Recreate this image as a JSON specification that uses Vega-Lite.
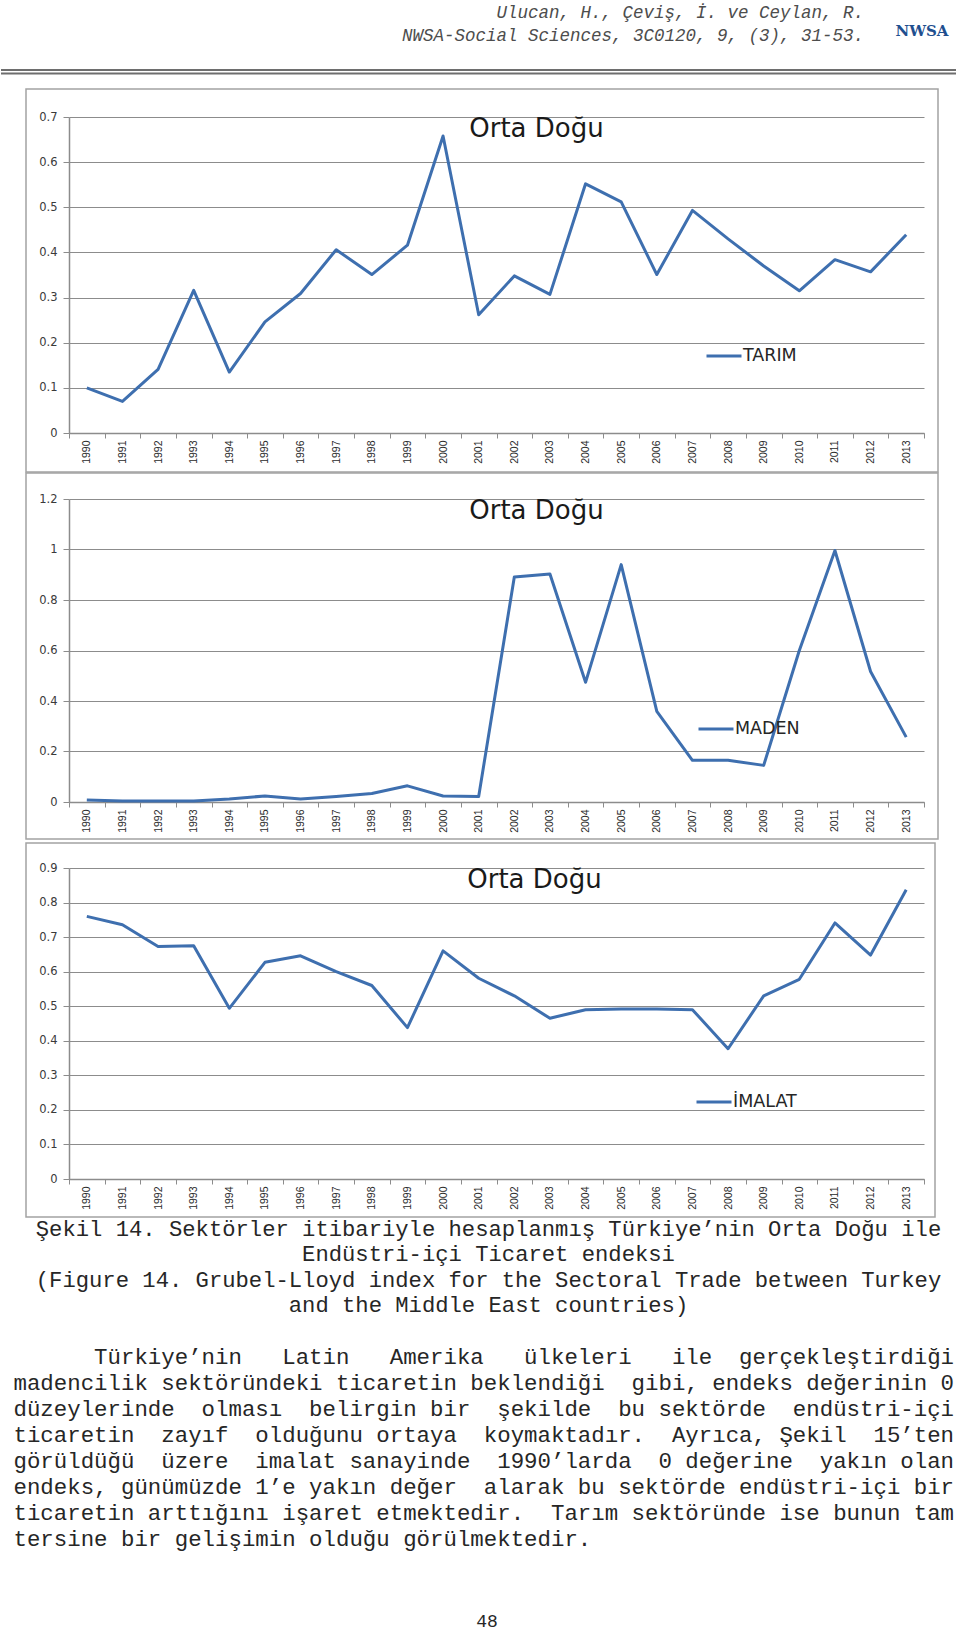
{
  "$schema": "https://vega.github.io/schema/vega-lite/v6.json",
  "padding": 0,
  "spacing": 66,
  "bounds": "flush",
  "background": "white",
  "resolve": {"scale": {"color": "independent"}, "legend": {"color": "independent"}},
  "config": {
    "view": {"stroke": null},
    "font": "DejaVu Sans",
    "axis": {"domainColor": "#8c8c8c", "tickColor": "#8c8c8c", "gridColor": "#8c8c8c", "labelColor": "#3a3a3a", "labelFont": "DejaVu Sans"},
    "axisY": {"grid": true, "tickSize": 6, "labelPadding": 6, "labelFontSize": 11.5, "domainWidth": 1.5},
    "axisX": {"grid": false, "tickBand": "extent", "tickSize": 5, "labelAngle": -90, "labelFont": "Liberation Sans", "labelFontSize": 10.5, "labelColor": "#2a2a2a", "labelPadding": 2, "domainWidth": 1.5},
    "legend": {"orient": "none", "symbolType": "stroke", "symbolSize": 1225, "symbolStrokeWidth": 3, "labelFont": "DejaVu Sans", "labelFontSize": 17.5, "labelColor": "#262626", "labelOffset": 0, "padding": 0},
    "title": {"font": "DejaVu Sans", "fontSize": 26, "fontWeight": "normal", "color": "#1a1a1a", "anchor": "middle", "frame": "group"}
  },
  "datasets": {
    "header": [
      {"line": 1, "text": "Ulucan, H., Çeviş, İ. ve Ceylan, R."},
      {"line": 2, "text": "NWSA-Social Sciences, 3C0120, 9, (3), 31-53."}
    ],
    "tarim": [
      {"year": "1990", "value": 0.100, "sector": "TARIM"},
      {"year": "1991", "value": 0.070, "sector": "TARIM"},
      {"year": "1992", "value": 0.141, "sector": "TARIM"},
      {"year": "1993", "value": 0.316, "sector": "TARIM"},
      {"year": "1994", "value": 0.135, "sector": "TARIM"},
      {"year": "1995", "value": 0.246, "sector": "TARIM"},
      {"year": "1996", "value": 0.309, "sector": "TARIM"},
      {"year": "1997", "value": 0.406, "sector": "TARIM"},
      {"year": "1998", "value": 0.351, "sector": "TARIM"},
      {"year": "1999", "value": 0.416, "sector": "TARIM"},
      {"year": "2000", "value": 0.658, "sector": "TARIM"},
      {"year": "2001", "value": 0.262, "sector": "TARIM"},
      {"year": "2002", "value": 0.348, "sector": "TARIM"},
      {"year": "2003", "value": 0.307, "sector": "TARIM"},
      {"year": "2004", "value": 0.552, "sector": "TARIM"},
      {"year": "2005", "value": 0.512, "sector": "TARIM"},
      {"year": "2006", "value": 0.351, "sector": "TARIM"},
      {"year": "2007", "value": 0.493, "sector": "TARIM"},
      {"year": "2008", "value": 0.430, "sector": "TARIM"},
      {"year": "2009", "value": 0.370, "sector": "TARIM"},
      {"year": "2010", "value": 0.315, "sector": "TARIM"},
      {"year": "2011", "value": 0.384, "sector": "TARIM"},
      {"year": "2012", "value": 0.357, "sector": "TARIM"},
      {"year": "2013", "value": 0.439, "sector": "TARIM"}
    ],
    "maden": [
      {"year": "1990", "value": 0.008, "sector": "MADEN"},
      {"year": "1991", "value": 0.004, "sector": "MADEN"},
      {"year": "1992", "value": 0.004, "sector": "MADEN"},
      {"year": "1993", "value": 0.004, "sector": "MADEN"},
      {"year": "1994", "value": 0.012, "sector": "MADEN"},
      {"year": "1995", "value": 0.024, "sector": "MADEN"},
      {"year": "1996", "value": 0.012, "sector": "MADEN"},
      {"year": "1997", "value": 0.022, "sector": "MADEN"},
      {"year": "1998", "value": 0.034, "sector": "MADEN"},
      {"year": "1999", "value": 0.064, "sector": "MADEN"},
      {"year": "2000", "value": 0.024, "sector": "MADEN"},
      {"year": "2001", "value": 0.022, "sector": "MADEN"},
      {"year": "2002", "value": 0.891, "sector": "MADEN"},
      {"year": "2003", "value": 0.903, "sector": "MADEN"},
      {"year": "2004", "value": 0.474, "sector": "MADEN"},
      {"year": "2005", "value": 0.940, "sector": "MADEN"},
      {"year": "2006", "value": 0.359, "sector": "MADEN"},
      {"year": "2007", "value": 0.165, "sector": "MADEN"},
      {"year": "2008", "value": 0.165, "sector": "MADEN"},
      {"year": "2009", "value": 0.145, "sector": "MADEN"},
      {"year": "2010", "value": 0.600, "sector": "MADEN"},
      {"year": "2011", "value": 0.996, "sector": "MADEN"},
      {"year": "2012", "value": 0.517, "sector": "MADEN"},
      {"year": "2013", "value": 0.257, "sector": "MADEN"}
    ],
    "imalat": [
      {"year": "1990", "value": 0.760, "sector": "İMALAT"},
      {"year": "1991", "value": 0.736, "sector": "İMALAT"},
      {"year": "1992", "value": 0.673, "sector": "İMALAT"},
      {"year": "1993", "value": 0.675, "sector": "İMALAT"},
      {"year": "1994", "value": 0.494, "sector": "İMALAT"},
      {"year": "1995", "value": 0.627, "sector": "İMALAT"},
      {"year": "1996", "value": 0.646, "sector": "İMALAT"},
      {"year": "1997", "value": 0.600, "sector": "İMALAT"},
      {"year": "1998", "value": 0.560, "sector": "İMALAT"},
      {"year": "1999", "value": 0.438, "sector": "İMALAT"},
      {"year": "2000", "value": 0.660, "sector": "İMALAT"},
      {"year": "2001", "value": 0.581, "sector": "İMALAT"},
      {"year": "2002", "value": 0.530, "sector": "İMALAT"},
      {"year": "2003", "value": 0.465, "sector": "İMALAT"},
      {"year": "2004", "value": 0.490, "sector": "İMALAT"},
      {"year": "2005", "value": 0.492, "sector": "İMALAT"},
      {"year": "2006", "value": 0.492, "sector": "İMALAT"},
      {"year": "2007", "value": 0.490, "sector": "İMALAT"},
      {"year": "2008", "value": 0.377, "sector": "İMALAT"},
      {"year": "2009", "value": 0.530, "sector": "İMALAT"},
      {"year": "2010", "value": 0.578, "sector": "İMALAT"},
      {"year": "2011", "value": 0.741, "sector": "İMALAT"},
      {"year": "2012", "value": 0.648, "sector": "İMALAT"},
      {"year": "2013", "value": 0.837, "sector": "İMALAT"}
    ],
    "caption": [
      {"line": 1, "text": "Şekil 14. Sektörler itibariyle hesaplanmış Türkiye’nin Orta Doğu ile"},
      {"line": 2, "text": "Endüstri-içi Ticaret endeksi"},
      {"line": 3, "text": "(Figure 14. Grubel-Lloyd index for the Sectoral Trade between Turkey"},
      {"line": 4, "text": "and the Middle East countries)"}
    ],
    "para": [
      {"line": 1, "text": "\u2060\u00a0\u00a0\u00a0\u00a0\u00a0\u00a0Türkiye’nin\u00a0\u00a0\u00a0Latin\u00a0\u00a0\u00a0Amerika\u00a0\u00a0\u00a0ülkeleri\u00a0\u00a0\u00a0ile\u00a0\u00a0gerçekleştirdiği"},
      {"line": 2, "text": "madencilik sektöründeki ticaretin beklendiği\u00a0\u00a0gibi, endeks değerinin 0"},
      {"line": 3, "text": "düzeylerinde\u00a0\u00a0olması\u00a0\u00a0belirgin bir\u00a0\u00a0şekilde\u00a0\u00a0bu sektörde\u00a0\u00a0endüstri-içi"},
      {"line": 4, "text": "ticaretin\u00a0\u00a0zayıf\u00a0\u00a0olduğunu ortaya\u00a0\u00a0koymaktadır.\u00a0\u00a0Ayrıca, Şekil\u00a0\u00a015’ten"},
      {"line": 5, "text": "görüldüğü\u00a0\u00a0üzere\u00a0\u00a0imalat sanayinde\u00a0\u00a01990’larda\u00a0\u00a00 değerine\u00a0\u00a0yakın olan"},
      {"line": 6, "text": "endeks, günümüzde 1’e yakın değer\u00a0\u00a0alarak bu sektörde endüstri-içi bir"},
      {"line": 7, "text": "ticaretin arttığını işaret etmektedir.\u00a0\u00a0Tarım sektöründe ise bunun tam"},
      {"line": 8, "text": "tersine bir gelişimin olduğu görülmektedir."}
    ]
  },
  "vconcat": [
    {
      "width": 855,
      "height": 51,
      "layer": [
        {
          "data": {"name": "header"},
          "mark": {"type": "text", "align": "right", "baseline": "middle", "font": "Liberation Mono", "fontStyle": "italic", "fontSize": 17.5, "color": "#4d4d4d"},
          "encoding": {
            "x": {"value": 795},
            "y": {"field": "line", "type": "quantitative", "scale": {"domain": [1, 2], "range": [12.5, 36.4]}, "axis": null},
            "text": {"field": "text"}
          }
        },
        {
          "data": {"values": [{"logo": "NWSA"}]},
          "mark": {"type": "text", "align": "center", "baseline": "middle", "font": "DejaVu Serif", "fontWeight": "bold", "fontSize": 15, "color": "#1f4f8f"},
          "encoding": {"x": {"value": 853}, "y": {"value": 31}, "text": {"field": "logo"}}
        },
        {
          "data": {"values": [{}]},
          "mark": {"type": "rule", "color": "#6e6e6e", "strokeWidth": 2},
          "encoding": {"x": {"value": -68}, "x2": {"value": 887}, "y": {"value": 70}}
        },
        {
          "data": {"values": [{}]},
          "mark": {"type": "rule", "color": "#6e6e6e", "strokeWidth": 2},
          "encoding": {"x": {"value": -68}, "x2": {"value": 887}, "y": {"value": 73.5}}
        }
      ]
    },
    {
      "width": 855,
      "height": 316,
      "title": {"text": "Orta Doğu", "dx": 40, "dy": 58},
      "layer": [
        {
          "data": {"values": [{}]},
          "mark": {"type": "rect", "fill": "white", "fillOpacity": 0, "stroke": "#a3a3a3", "strokeWidth": 1.5},
          "encoding": {"x": {"value": -43}, "x2": {"value": 869}, "y": {"value": -28}, "y2": {"value": 355}}
        },
        {
          "data": {"name": "tarim"},
          "mark": {"type": "line", "strokeWidth": 3, "strokeJoin": "round"},
          "encoding": {
            "x": {"field": "year", "type": "ordinal", "bandPosition": 0.5, "title": null, "scale": {"type": "band", "paddingInner": 0, "paddingOuter": 0}},
            "y": {"field": "value", "type": "quantitative", "title": null, "scale": {"domain": [0, 0.7], "nice": false}, "axis": {"values": [0, 0.1, 0.2, 0.3, 0.4, 0.5, 0.6, 0.7], "format": ".1~f"}},
            "color": {"field": "sector", "type": "nominal", "title": null, "scale": {"range": ["#3e6faf"]}, "legend": {"legendX": 636, "legendY": 220}}
          }
        }
      ]
    },
    {
      "width": 855,
      "height": 303,
      "title": {"text": "Orta Doğu", "dx": 40, "dy": 56},
      "layer": [
        {
          "data": {"values": [{}]},
          "mark": {"type": "rect", "fill": "white", "fillOpacity": 0, "stroke": "#a3a3a3", "strokeWidth": 1.5},
          "encoding": {"x": {"value": -43}, "x2": {"value": 869}, "y": {"value": -26}, "y2": {"value": 340}}
        },
        {
          "data": {"name": "maden"},
          "mark": {"type": "line", "strokeWidth": 3, "strokeJoin": "round"},
          "encoding": {
            "x": {"field": "year", "type": "ordinal", "bandPosition": 0.5, "title": null, "scale": {"type": "band", "paddingInner": 0, "paddingOuter": 0}},
            "y": {"field": "value", "type": "quantitative", "title": null, "scale": {"domain": [0, 1.2], "nice": false}, "axis": {"values": [0, 0.2, 0.4, 0.6, 0.8, 1, 1.2], "format": ".1~f"}},
            "color": {"field": "sector", "type": "nominal", "title": null, "scale": {"range": ["#3e6faf"]}, "legend": {"legendX": 628, "legendY": 211}}
          }
        }
      ]
    },
    {
      "width": 855,
      "height": 311,
      "title": {"text": "Orta Doğu", "dx": 38, "dy": 55},
      "layer": [
        {
          "data": {"values": [{}]},
          "mark": {"type": "rect", "fill": "white", "fillOpacity": 0, "stroke": "#a3a3a3", "strokeWidth": 1.5},
          "encoding": {"x": {"value": -43}, "x2": {"value": 866}, "y": {"value": -25}, "y2": {"value": 349}}
        },
        {
          "data": {"name": "imalat"},
          "mark": {"type": "line", "strokeWidth": 3, "strokeJoin": "round"},
          "encoding": {
            "x": {"field": "year", "type": "ordinal", "bandPosition": 0.5, "title": null, "scale": {"type": "band", "paddingInner": 0, "paddingOuter": 0}},
            "y": {"field": "value", "type": "quantitative", "title": null, "scale": {"domain": [0, 0.9], "nice": false}, "axis": {"values": [0, 0.1, 0.2, 0.3, 0.4, 0.5, 0.6, 0.7, 0.8, 0.9], "format": ".1~f"}},
            "color": {"field": "sector", "type": "nominal", "title": null, "scale": {"range": ["#3e6faf"]}, "legend": {"legendX": 626, "legendY": 215}}
          }
        }
      ]
    },
    {
      "width": 855,
      "height": 385,
      "layer": [
        {
          "data": {"name": "caption"},
          "mark": {"type": "text", "align": "center", "baseline": "middle", "font": "Liberation Mono", "fontSize": 22.2, "color": "#262626"},
          "encoding": {
            "x": {"value": 419.5},
            "y": {"field": "line", "type": "quantitative", "scale": {"domain": [1, 4], "range": [-16, 60]}, "axis": null},
            "text": {"field": "text"}
          }
        },
        {
          "data": {"name": "para"},
          "mark": {"type": "text", "align": "left", "baseline": "middle", "font": "Liberation Mono", "fontSize": 22.4, "color": "#262626"},
          "encoding": {
            "x": {"value": -55.5},
            "y": {"field": "line", "type": "quantitative", "scale": {"domain": [1, 8], "range": [112, 294]}, "axis": null},
            "text": {"field": "text"}
          }
        },
        {
          "data": {"values": [{"page": "48"}]},
          "mark": {"type": "text", "align": "center", "baseline": "middle", "font": "Liberation Mono", "fontSize": 18, "color": "#262626"},
          "encoding": {"x": {"value": 418}, "y": {"value": 377}, "text": {"field": "page"}}
        }
      ],
      "resolve": {"scale": {"y": "independent"}}
    }
  ]
}
